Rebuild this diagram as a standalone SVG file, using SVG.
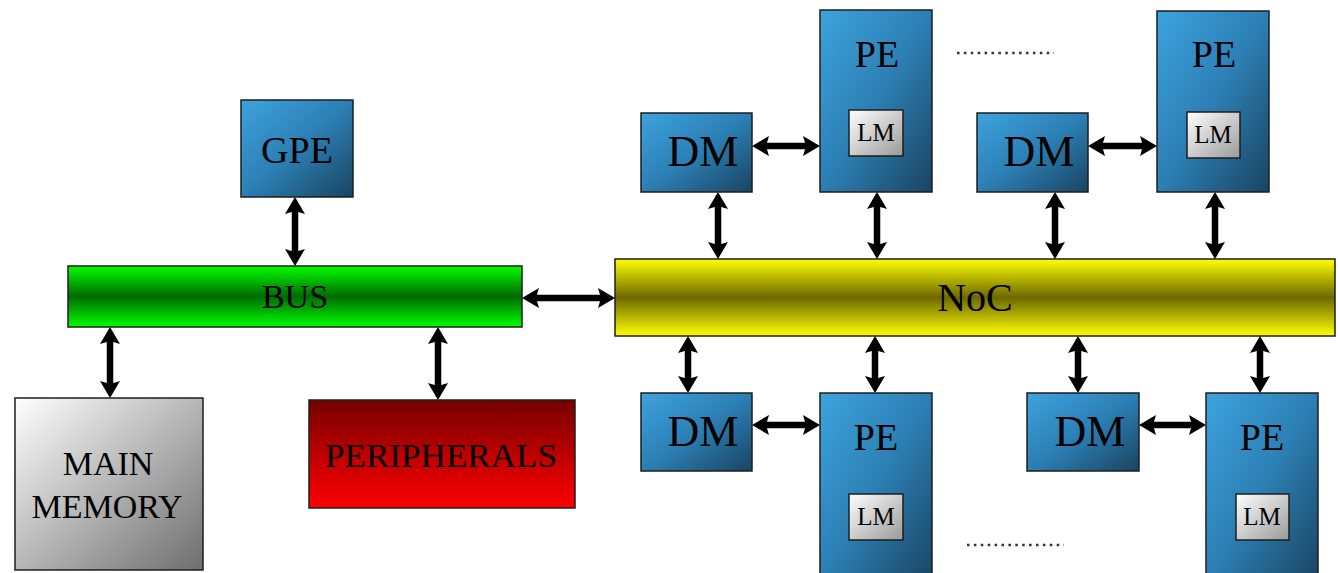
<svg xmlns="http://www.w3.org/2000/svg" width="1338" height="573" viewBox="0 0 1338 573" font-family="Liberation Serif, DejaVu Serif, serif">
<defs>
<linearGradient id="gBlue" x1="0" y1="0" x2="1" y2="1"><stop offset="0" stop-color="#3da3de"/><stop offset="0.5" stop-color="#2c7fb4"/><stop offset="1" stop-color="#1a4461"/></linearGradient>
<linearGradient id="gGreen" x1="0" y1="0" x2="0" y2="1"><stop offset="0" stop-color="#00ff00"/><stop offset="0.5" stop-color="#006a00"/><stop offset="1" stop-color="#00ff00"/></linearGradient>
<linearGradient id="gYellow" x1="0" y1="0" x2="0" y2="1"><stop offset="0" stop-color="#ffff00"/><stop offset="0.5" stop-color="#6e6800"/><stop offset="1" stop-color="#ffff00"/></linearGradient>
<linearGradient id="gGray" x1="0" y1="0" x2="1" y2="1"><stop offset="0" stop-color="#ffffff"/><stop offset="1" stop-color="#6e6e6e"/></linearGradient>
<linearGradient id="gLM" x1="0" y1="0" x2="1" y2="1"><stop offset="0" stop-color="#ffffff"/><stop offset="1" stop-color="#9a9a9a"/></linearGradient>
<linearGradient id="gRed" x1="0" y1="0" x2="0" y2="1"><stop offset="0" stop-color="#760000"/><stop offset="1" stop-color="#ff0000"/></linearGradient>
<marker id="ah" markerUnits="userSpaceOnUse" viewBox="0 0 17 20" markerWidth="17" markerHeight="20" refX="4" refY="10" orient="auto-start-reverse"><path d="M0,0 L17,10 L0,20 L3,10 Z" fill="#000"/></marker>
</defs>
<style>
.box{stroke:#1e1e1e;stroke-width:1.5}
.blue{fill:url(#gBlue)}
.t{fill:#000;text-anchor:middle}
.c{stroke:#000;stroke-width:6.5;fill:none;marker-start:url(#ah);marker-end:url(#ah)}
.dots{stroke:#333;stroke-width:2.5;stroke-dasharray:2.5 4.4}
</style>
<rect width="1338" height="573" fill="#fff"/>
<g id="connectors">
<line class="c" x1="295" y1="210" x2="295" y2="253"/>
<line class="c" x1="535" y1="298" x2="602" y2="298"/>
<line class="c" x1="110" y1="340" x2="110" y2="385"/>
<line class="c" x1="438" y1="340" x2="438" y2="387"/>
<line class="c" x1="718" y1="205" x2="718" y2="246"/>
<line class="c" x1="877" y1="205" x2="877" y2="246"/>
<line class="c" x1="1055" y1="205" x2="1055" y2="246"/>
<line class="c" x1="1215" y1="205" x2="1215" y2="246"/>
<line class="c" x1="765" y1="146" x2="807" y2="146"/>
<line class="c" x1="1101" y1="146" x2="1144" y2="146"/>
<line class="c" x1="688" y1="349" x2="688" y2="380"/>
<line class="c" x1="875" y1="349" x2="875" y2="380"/>
<line class="c" x1="1078" y1="349" x2="1078" y2="380"/>
<line class="c" x1="1260" y1="349" x2="1260" y2="380"/>
<line class="c" x1="765" y1="425" x2="807" y2="425"/>
<line class="c" x1="1152" y1="425" x2="1193" y2="425"/>
</g>
<g id="gpe"><rect class="box blue" x="241" y="100" width="112" height="97"/><text class="t" x="297" y="163" font-size="38">GPE</text></g>
<g id="bus"><rect class="box" x="68" y="266" width="454" height="61" fill="url(#gGreen)"/><text class="t" x="295" y="308" font-size="34">BUS</text></g>
<g id="noc"><rect class="box" x="615" y="259" width="720" height="77" fill="url(#gYellow)"/><text class="t" x="975" y="311" font-size="40">NoC</text></g>
<g id="main-memory"><rect class="box" x="15" y="398" width="188" height="172" fill="url(#gGray)"/><text class="t" x="108" y="475" font-size="34">MAIN</text><text class="t" x="107" y="518" font-size="34">MEMORY</text></g>
<g id="peripherals"><rect class="box" x="309" y="400" width="266" height="108" fill="url(#gRed)"/><text class="t" x="441" y="467" font-size="33" textLength="232" lengthAdjust="spacingAndGlyphs">PERIPHERALS</text></g>
<g id="dm1"><rect class="box blue" x="641" y="113" width="111" height="79"/><text class="t" x="703" y="166" font-size="44">DM</text></g>
<g id="pe1"><rect class="box blue" x="820" y="10" width="112" height="182"/><text class="t" x="877" y="67" font-size="38">PE</text><rect class="box" x="849" y="110" width="54" height="46" fill="url(#gLM)"/><text class="t" x="876" y="141" font-size="25">LM</text></g>
<g id="dots-top"><line class="dots" x1="957" y1="53" x2="1054" y2="53"/></g>
<g id="dm2"><rect class="box blue" x="977" y="113" width="111" height="79"/><text class="t" x="1039" y="166" font-size="44">DM</text></g>
<g id="pe2"><rect class="box blue" x="1157" y="11" width="112" height="181"/><text class="t" x="1214" y="67" font-size="38">PE</text><rect class="box" x="1187" y="112" width="53" height="46" fill="url(#gLM)"/><text class="t" x="1213" y="143" font-size="25">LM</text></g>
<g id="dm3"><rect class="box blue" x="641" y="393" width="111" height="78"/><text class="t" x="703" y="446" font-size="44">DM</text></g>
<g id="pe3"><rect class="box blue" x="820" y="393" width="112" height="190"/><text class="t" x="876" y="450" font-size="38">PE</text><rect class="box" x="849" y="494" width="54" height="46" fill="url(#gLM)"/><text class="t" x="876" y="525" font-size="25">LM</text></g>
<g id="dots-bottom"><line class="dots" x1="967" y1="545" x2="1064" y2="545"/></g>
<g id="dm4"><rect class="box blue" x="1027" y="393" width="112" height="78"/><text class="t" x="1090" y="446" font-size="44">DM</text></g>
<g id="pe4"><rect class="box blue" x="1206" y="393" width="112" height="190"/><text class="t" x="1262" y="450" font-size="38">PE</text><rect class="box" x="1236" y="494" width="53" height="46" fill="url(#gLM)"/><text class="t" x="1262" y="525" font-size="25">LM</text></g>
</svg>
